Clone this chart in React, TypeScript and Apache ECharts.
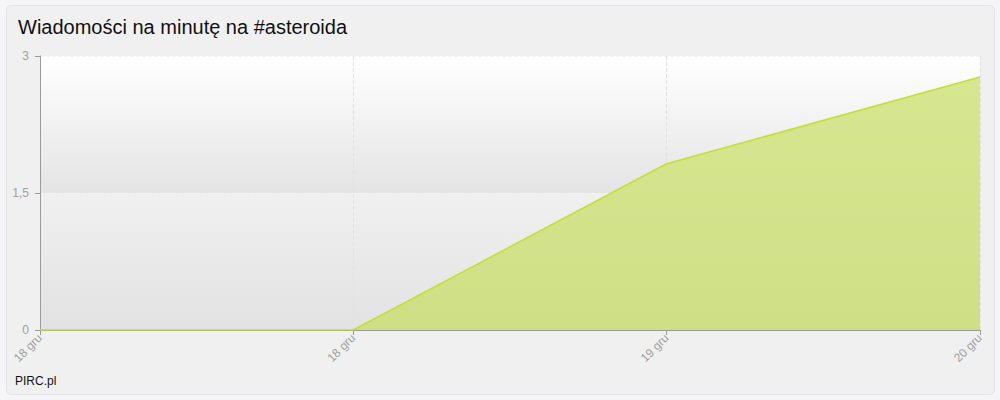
import React, { useEffect, useRef } from "react";
import * as echarts from "echarts";

const categories = ["18 gru", "18 gru", "19 gru", "20 gru"];
const values = [0, 0, 1.82, 2.77];
const yTicks = [0, 1.5, 3];
const titleText = "Wiadomości na minutę na #asteroida";
const footerText = "PIRC.pl";

export default function App() {
  const ref = useRef<HTMLDivElement>(null);
  useEffect(() => {
    if (!ref.current) return;
    const chart = echarts.init(ref.current, null, { renderer: "svg" });
    const grad = (a: string, b: string) =>
      new echarts.graphic.LinearGradient(0, 0, 0, 1, [
        { offset: 0, color: a },
        { offset: 1, color: b },
      ]);
    chart.setOption({
      animation: false,
      backgroundColor: "#f5f5f8",
      graphic: [
        {
          type: "rect",
          z: -10,
          shape: { x: 6.5, y: 5.5, width: 988, height: 389, r: 5 },
          style: { fill: "#f0f0f0", stroke: "#e4e4e8", lineWidth: 1 },
        },
        {
          type: "text",
          left: 18,
          top: 17,
          style: {
            text: titleText,
            fontSize: 20,
            fontFamily: "Liberation Sans, Arial, sans-serif",
            fill: "#111",
          },
        },
        {
          type: "text",
          left: 15,
          top: 375,
          style: {
            text: footerText,
            fontSize: 12,
            fontFamily: "Liberation Sans, Arial, sans-serif",
            fill: "#111",
          },
        },
      ],
      grid: { left: 40, right: 20, top: 56, bottom: 70, containLabel: false },
      xAxis: {
        type: "category",
        data: categories,
        boundaryGap: false,
        axisLine: { show: true, lineStyle: { color: "#9a9a9a", width: 1 } },
        axisTick: { show: true, length: 5, alignWithLabel: true, lineStyle: { color: "#9a9a9a" } },
        axisLabel: {
          rotate: 45,
          color: "#a0a0a0",
          fontSize: 12,
          margin: 6,
          fontFamily: "Liberation Sans, Arial, sans-serif",
          interval: 0,
        },
        splitLine: { show: true, lineStyle: { color: "#e2e2e2", type: "dashed" } },
      },
      yAxis: {
        type: "value",
        min: yTicks[0],
        max: yTicks[yTicks.length - 1],
        interval: yTicks[1] - yTicks[0],
        axisLine: { show: true, lineStyle: { color: "#9a9a9a", width: 1 } },
        axisTick: { show: true, length: 5, lineStyle: { color: "#9a9a9a" } },
        axisLabel: {
          color: "#a0a0a0",
          fontSize: 12,
          margin: 11,
          fontFamily: "Liberation Sans, Arial, sans-serif",
          formatter: (v: number) => String(v).replace(".", ","),
        },
        splitLine: { show: true, lineStyle: { color: "#f4f4f4", type: "dashed" } },
        splitArea: {
          show: true,
          areaStyle: {
            color: [grad("#f0f0f0", "#e2e2e2"), grad("#ffffff", "#e4e4e4")],
          },
        },
      },
      series: [
        {
          type: "line",
          data: values,
          symbol: "none",
          lineStyle: { color: "#c6de32", width: 1.5 },
          areaStyle: { color: grad("#d7e78f", "#cfdf86"), opacity: 1 },
        },
      ],
    });
    return () => chart.dispose();
  }, []);
  return (
    <div
      ref={ref}
      style={{ position: "fixed", left: 0, top: 0, width: 1000, height: 400 }}
    />
  );
}
